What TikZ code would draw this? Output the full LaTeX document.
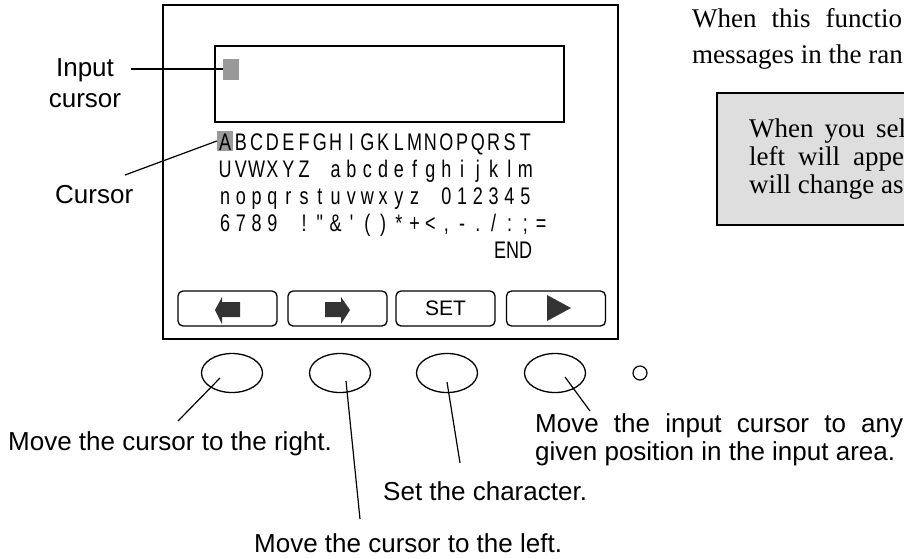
\documentclass[tikz,border=0pt]{standalone}
\usepackage{fontspec}
\setmainfont{Liberation Sans}
\newfontfamily\notefont{Liberation Serif}
\newfontfamily\lcdfont{Liberation Sans}[FakeStretch=0.75,Ligatures=TeXOff]
\usetikzlibrary{shapes.geometric}

% one fixed-width cell per character of the LCD table (~ stands for a blank cell)
\newcommand\lcdcell[1]{\makebox[15.8pt][c]{#1}}
\newcommand\lcdrowtext[1]{\lcdrowloop#1\relax}
\newcommand\lcdrowloop[1]{\ifx\relax#1\else\lcdcell{#1}\expandafter\lcdrowloop\fi}

\begin{document}
\begin{tikzpicture}[
    x=1pt, y=-1pt,
    lbl/.style={font=\fontsize{26}{31}\selectfont, inner sep=0pt},
    note/.style={font=\notefont\fontsize{27}{31}\selectfont, inner sep=0pt, anchor=base west},
    lcdrow/.style={font=\lcdfont\fontsize{24}{27}\selectfont, inner sep=0pt, anchor=base west},
    hilite/.style={fill=black!40, inner sep=0pt},
    btn/.style={draw, line width=1.3pt, rounded corners=5pt, minimum width=99pt,
                minimum height=35pt, inner sep=0pt, font=\fontsize{21}{25}\selectfont},
    key/.style={draw, ellipse, line width=1.3pt, minimum width=61pt,
                minimum height=39pt, inner sep=0pt},
    leader/.style={line width=1.2pt},
    icon/.style={fill=black!80}
]
\useasboundingbox (0,0) rectangle (904,558);
\clip (0,0) rectangle (904,558);

% =========================================================
% SCREEN
% =========================================================
\draw[line width=2pt] (163,5) rectangle (618,339);
\draw[line width=1.6pt] (215,46) rectangle (564,122);

% input cursor
\node[hilite, minimum width=16pt, minimum height=21pt] (incur) at (231,69) {};

% character table, cursor on the first cell
\node[hilite, minimum width=15.8pt, minimum height=20pt] (curA) at (224.9,141) {};
\node[lcdrow] (row1) at (217,150) {\lcdrowtext{ABCDEFGHIGKLMNOPQRST}};
\node[lcdrow] (row2) at (217,177) {\lcdrowtext{UVWXYZ~abcdefghijklm}};
\node[lcdrow] (row3) at (217,204) {\lcdrowtext{nopqrstuvwxyz~012345}};
\node[lcdrow] (row4) at (217,231) {\lcdrowtext{6789~!"\&'()*+<,-./:;=}};
\node[lcdrow] (rowend) at (494,258) {END};

% soft keys
\node[btn] (btn1) at (227.5,308.5) {};
\node[btn] (btn2) at (337.5,308.5) {};
\node[btn] (btn3) at (445.5,308.5) {SET};
\node[btn] (btn4) at (556,308.5) {};

\fill[icon] (240,302) -- (222,302) -- (222,297) -- (215,310) -- (222,324)
            -- (222,317) -- (240,317) -- cycle;
\fill[icon] (325,302) -- (341,302) -- (341,297) -- (350,310) -- (341,324)
            -- (341,317) -- (325,317) -- cycle;
\fill[icon] (547,295) -- (571,308) -- (547,321) -- cycle;

% =========================================================
% KEYS BELOW THE SCREEN
% =========================================================
\node[key] (key1) at (232,373) {};
\node[key] (key2) at (340,373) {};
\node[key] (key3) at (447,373) {};
\node[key] (key4) at (555,373) {};
\node[draw, circle, line width=1.2pt, minimum size=14pt, inner sep=0pt] (lamp) at (640,373) {};

% =========================================================
% LABELS
% =========================================================
\node[lbl, align=center] (inlbl) at (85,83) {Input\\cursor};
\node[lbl, anchor=base west] (curlbl) at (55,203) {Cursor};

\node[lbl, anchor=base west] (rlbl) at (8,450) {Move the cursor to the right.};
\node[lbl, anchor=base west] (llbl) at (254,552) {Move the cursor to the left.};
\node[lbl, anchor=base west] (slbl) at (383,500) {Set the character.};
\node[lbl, anchor=base west] (mlbl1) at (535,432)
      {\makebox[368pt][s]{Move the input cursor to any}};
\node[lbl, anchor=base west] (mlbl2) at (535,460) {given position in the input area.};

% leader lines
\coordinate (inend) at (131,69);
\coordinate (curend) at (125,175);
\coordinate (rend) at (178,421);
\coordinate (lend) at (360,519);
\coordinate (send) at (460,463);
\coordinate (mend) at (590,411);
\draw[leader] (inend) -- (incur.west);
\draw[leader] (curend) -- (curA.west);
\draw[leader] ([shift={(-12,5)}]key1.center) -- (rend);
\draw[leader] ([shift={(6,8)}]key2.center) -- (lend);
\draw[leader] ([shift={(0,9)}]key3.center) -- (send);
\draw[leader] ([shift={(10,4)}]key4.center) -- (mend);

% =========================================================
% TEXT ON THE RIGHT
% =========================================================
\node[note] (fn1) at (692,27) {When\hspace{15pt}this\hspace{15pt}functio};
\node[note] (fn2) at (692,63) {messages in the ran};

\draw[line width=2pt, fill=black!13] (717,93) rectangle (930,225);
\node[note] (bx1) at (749,137) {When\hspace{11pt}you\hspace{11pt}sel};
\node[note] (bx2) at (749,165) {left\hspace{13pt}will\hspace{13pt}appe};
\node[note] (bx3) at (749,193) {will change as};

\end{tikzpicture}
\end{document}
